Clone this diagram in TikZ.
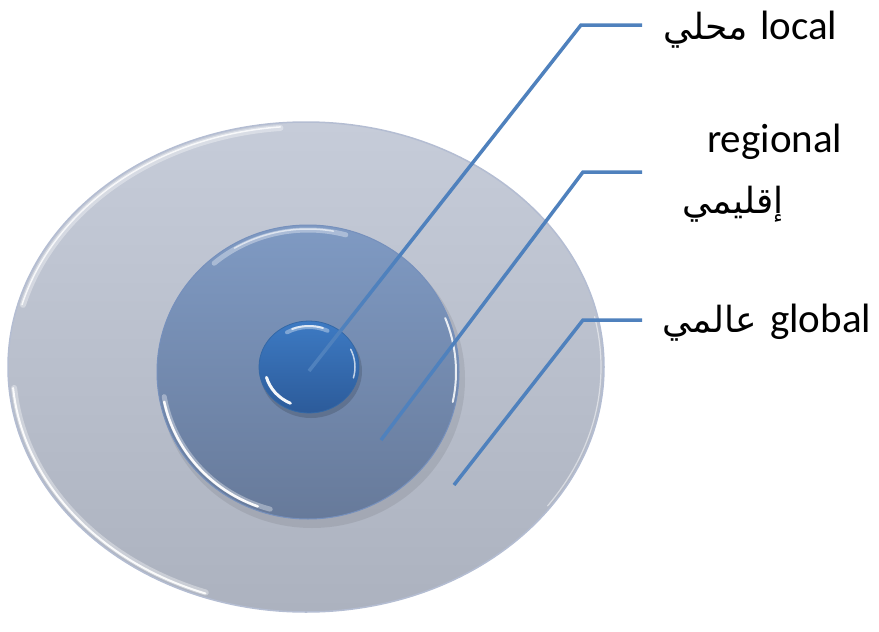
\documentclass[tikz,border=0pt]{standalone}
\usepackage{fontspec}
\setmainfont{Carlito}
\newfontfamily\arabicfont[Script=Arabic]{DejaVu Sans}
\TeXXeTstate=1
\usetikzlibrary{shapes.geometric}
\definecolor{outerT}{HTML}{C6CCD9}
\definecolor{outerB}{HTML}{ACB2BF}
\definecolor{outerE}{HTML}{B4BDD2}
\definecolor{midT}{HTML}{7F9AC3}
\definecolor{midB}{HTML}{677A9A}
\definecolor{midE}{HTML}{7690BC}
\definecolor{innT}{HTML}{3D7AC3}
\definecolor{innB}{HTML}{2C5B9A}
\definecolor{lineC}{HTML}{4F81BD}
\tikzset{
  disc/.style={ellipse, inner sep=0pt, shading=axis},
  leader/.style={draw=lineC, line width=3.5pt, line join=miter},
  rim/.style={draw=white, line width=#1, line cap=round},
  glow/.style={draw=white, line width=#1, line cap=round, opacity=.35},
  lab/.style={inner sep=0pt, font=\fontsize{41}{49}\selectfont},
  arab/.style={inner sep=0pt, font=\arabicfont\fontsize{36}{42}\selectfont}
}
\begin{document}
\begin{tikzpicture}[x=1pt,y=-1pt]
\useasboundingbox (0,0) rectangle (879,632);
% outer disc
\node[disc, minimum width=596pt, minimum height=490pt, top color=outerT, bottom color=outerB, draw=outerE, line width=1.5pt] (outer) at (306,367) {};
\draw[glow=6pt] (306,367) ++(95:293pt and 240pt) arc[start angle=95, end angle=165, x radius=293pt, y radius=240pt];
\draw[rim=1.5pt, opacity=.8] (306,367) ++(95:294pt and 241pt) arc[start angle=95, end angle=165, x radius=294pt, y radius=241pt];
\draw[glow=6pt] (306,367) ++(185:293pt and 240pt) arc[start angle=185, end angle=250, x radius=293pt, y radius=240pt];
\draw[rim=2pt, opacity=.9] (306,367) ++(185:294pt and 241pt) arc[start angle=185, end angle=250, x radius=294pt, y radius=241pt];
\draw[rim=1.2pt, opacity=.5] (306,367) ++(12:295pt and 242pt) arc[start angle=12, end angle=-35, x radius=295pt, y radius=242pt];
% middle disc
\fill[black, opacity=.08] (312,379) ellipse[x radius=153pt, y radius=149pt];
\node[disc, minimum width=302pt, minimum height=294pt, top color=midT, bottom color=midB, draw=midE, line width=1pt] (mid) at (308,372) {};
\draw[glow=5pt] (308,372) ++(75:146pt and 142pt) arc[start angle=75, end angle=130, x radius=146pt, y radius=142pt];
\draw[rim=1.5pt, opacity=.6] (308,372) ++(80:147pt and 143pt) arc[start angle=80, end angle=120, x radius=147pt, y radius=143pt];
\draw[glow=5pt] (308,372) ++(190:146pt and 142pt) arc[start angle=190, end angle=255, x radius=146pt, y radius=142pt];
\draw[rim=2.5pt, opacity=.95] (308,372) ++(192:147pt and 143pt) arc[start angle=192, end angle=250, x radius=147pt, y radius=143pt];
\draw[rim=2pt, opacity=.85] (308,372) ++(22:148pt and 144pt) arc[start angle=22, end angle=-12, x radius=148pt, y radius=144pt];
% inner disc
\fill[black, opacity=.15] (311,371) ellipse[x radius=51pt, y radius=47pt];
\node[disc, minimum width=100pt, minimum height=92pt, top color=innT, bottom color=innB, draw=innT!85!black, line width=.8pt] (inn) at (309,367) {};
\draw[glow=4pt] (309,367) ++(65:44pt and 40pt) arc[start angle=65, end angle=120, x radius=44pt, y radius=40pt];
\draw[rim=2pt, opacity=.75] (309,367) ++(72:45pt and 41pt) arc[start angle=72, end angle=112, x radius=45pt, y radius=41pt];
\draw[rim=3pt, opacity=.95] (309,367) ++(195:44pt and 40pt) arc[start angle=195, end angle=245, x radius=44pt, y radius=40pt];
\draw[rim=1.5pt, opacity=.7] (309,367) ++(25:46pt and 42pt) arc[start angle=25, end angle=-15, x radius=46pt, y radius=42pt];
% leader points
\coordinate (pLocal) at (309,371);
\coordinate (bLocal) at (581,25);
\coordinate (eLocal) at (642,25);
\coordinate (pReg) at (381,440);
\coordinate (bReg) at (583,172);
\coordinate (eReg) at (642,172);
\coordinate (pGlob) at (454,485);
\coordinate (bGlob) at (583,320);
\coordinate (eGlob) at (642,320);
\draw[leader] (pLocal) -- (bLocal) -- (eLocal);
\draw[leader] (pReg) -- (bReg) -- (eReg);
\draw[leader] (pGlob) -- (bGlob) -- (eGlob);
% labels
\node[lab, anchor=base west] (tLocal) at (760,39) {local};
\node[arab, anchor=base east] (aLocal) at (748,39) {\beginR محلي\endR};
\node[lab, anchor=base west] (tReg) at (707,152) {regional};
\node[arab, anchor=base] (aReg) at (733,213) {\beginR إقليمي\endR};
\node[lab, anchor=base west] (tGlob) at (770,332) {global};
\node[arab, anchor=base east] (aGlob) at (757,332) {\beginR عالمي\endR};
\end{tikzpicture}
\end{document}
